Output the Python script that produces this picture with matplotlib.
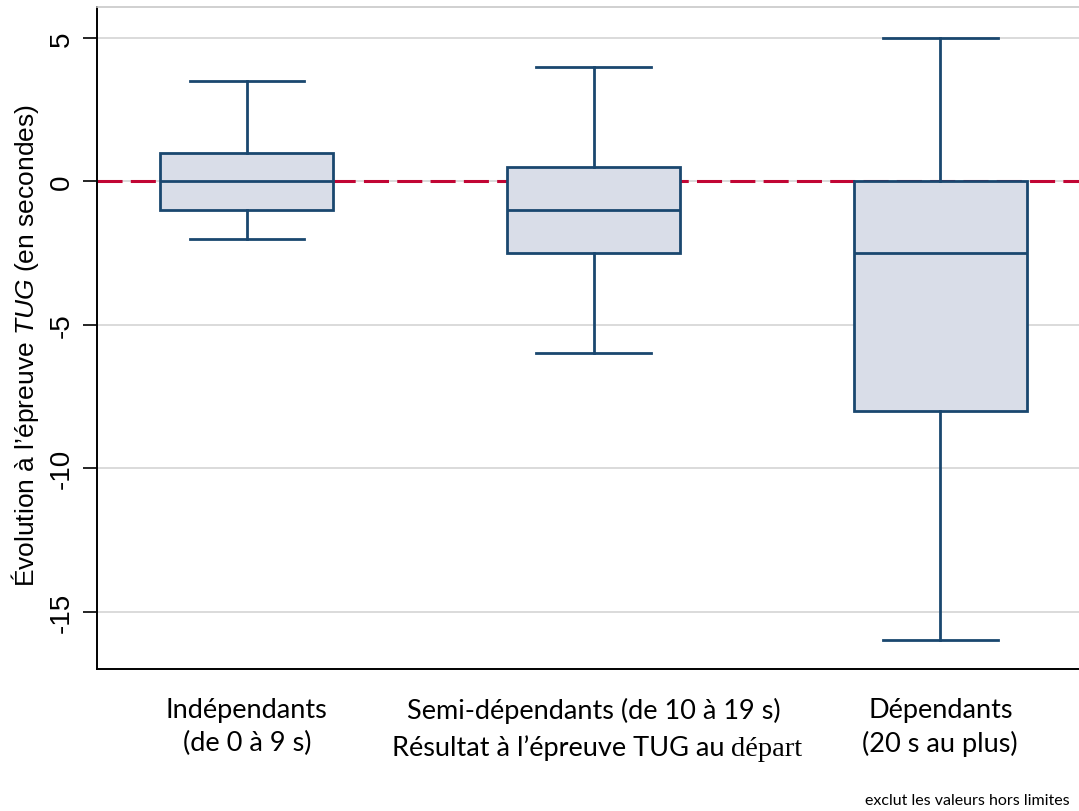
import matplotlib
matplotlib.use("Agg")
import matplotlib.pyplot as plt
from matplotlib.offsetbox import TextArea, HPacker, AnnotationBbox

plt.rcParams["font.family"] = ["Liberation Sans", "DejaVu Sans"]
plt.rcParams["mathtext.fontset"] = "custom"
plt.rcParams["mathtext.rm"] = "Liberation Sans"
plt.rcParams["mathtext.it"] = "Liberation Sans:italic"

# groupes et statistiques des boîtes (whiskers, quartiles, médiane)
groupes = ["Indépendants\n(de 0 à 9 s)",
           "Semi-dépendants (de 10 à 19 s)",
           "Dépendants\n(20 s au plus)"]
whislo = [-2, -6, -16]
q1 = [-1, -2.5, -8]
med = [0, -1, -2.5]
q3 = [1, 0.5, 0]
whishi = [3.5, 4, 5]
yticks = [5, 0, -5, -10, -15]

navy = "#1a476f"
fill = "#d9dde8"

fig = plt.figure(figsize=(10.79, 8.12), dpi=100)
ax = fig.add_axes([97 / 1079, 1 - 670 / 812, 1 - 97 / 1079, (670 - 8) / 812])

stats = []
for i in range(3):
    stats.append({"whislo": whislo[i], "q1": q1[i], "med": med[i],
                  "q3": q3[i], "whishi": whishi[i], "fliers": []})

for y in yticks:
    ax.axhline(y, color="#d4d4d4", lw=1.2, zorder=0)
ax.axhline(0, color="#c10534", lw=2.2, dashes=(8.2, 2.7), zorder=1)

ax.bxp(stats, positions=[1, 2, 3], widths=0.5, capwidths=0.33,
       showfliers=False, patch_artist=True,
       boxprops=dict(facecolor=fill, edgecolor=navy, linewidth=2),
       medianprops=dict(color=navy, linewidth=2),
       whiskerprops=dict(color=navy, linewidth=2),
       capprops=dict(color=navy, linewidth=2))

ax.set_xlim(0.568, 3.40)
ax.set_ylim(-17.0, 6.08)
ax.set_yticks(yticks)
ax.set_yticklabels([str(v) for v in yticks], rotation=90, va="center",
                   fontsize=20)
ax.tick_params(axis="y", length=10, width=1.2, pad=6)
ax.set_xticks([1, 2, 3])
ax.set_xticklabels(groupes, fontsize=19.5, family=["Lato", "DejaVu Sans"],
                   linespacing=1.4)
ax.tick_params(axis="x", length=0, pad=20)

ax.spines["right"].set_visible(False)
ax.spines["top"].set_color("#c8c8c8")
ax.spines["top"].set_linewidth(1.2)
ax.spines["left"].set_linewidth(1.4)
ax.spines["bottom"].set_linewidth(1.4)

ax.set_ylabel("Évolution à l’épreuve $\\it{TUG}$ (en secondes)", fontsize=19)
ax.yaxis.set_label_coords(-0.057, 0.49)

# titre de l'axe x : police mixte sur une seule ligne
t1 = TextArea("Résultat à l’épreuve TUG au ",
              textprops=dict(fontsize=19.5, family="Lato"))
t2 = TextArea("départ", textprops=dict(fontsize=20.5, family="Liberation Serif"))
pack = HPacker(children=[t1, t2], align="baseline", pad=0, sep=0)
ab = AnnotationBbox(pack, (2.01, -0.118), xycoords=("data", "axes fraction"),
                    frameon=False, box_alignment=(0.5, 0.5))
ax.add_artist(ab)

fig.text(1070 / 1079, 1 - 801 / 812, "exclut les valeurs hors limites",
         ha="right", va="center", fontsize=11.5, family="Lato")

fig.savefig("out.png", dpi=100)
